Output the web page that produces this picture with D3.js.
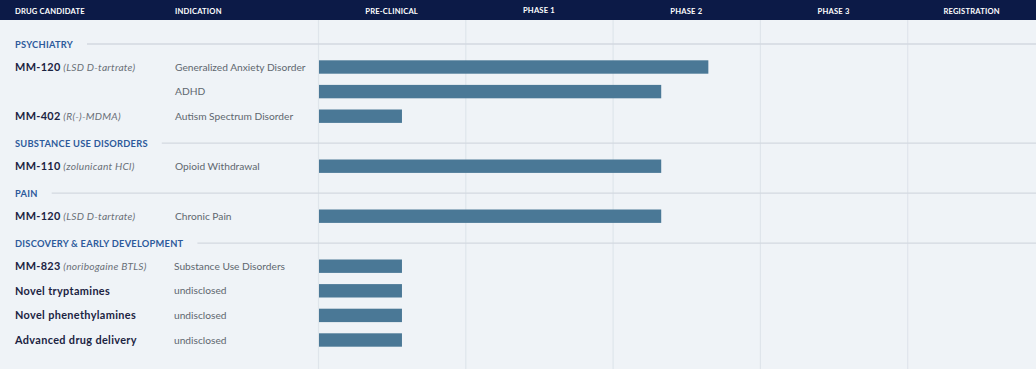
<!DOCTYPE html>
<html>
<head>
<meta charset="utf-8">
<script src="https://cdn.jsdelivr.net/npm/d3@7"></script>
<style>
  body { margin: 0; background: #eff3f7; }
  svg { display: block; font-family: Lato, "Open Sans", sans-serif; }
</style>
</head>
<body>
<div id="chart"></div>
<script>
// phases (column headers)
const phases = ["PRE-CLINICAL", "PHASE 1", "PHASE 2", "PHASE 3", "REGISTRATION"];

// sections and their rows
const sections = ["PSYCHIATRY", "SUBSTANCE USE DISORDERS", "PAIN", "DISCOVERY & EARLY DEVELOPMENT"];
const drugs = ["MM-120", "", "MM-402", "MM-110", "MM-120", "MM-823", "Novel tryptamines", "Novel phenethylamines", "Advanced drug delivery"];
const compounds = ["LSD D-tartrate", "", "R(-)-MDMA", "zolunicant HCl", "LSD D-tartrate", "noribogaine BTLS", "", "", ""];
const indications = ["Generalized Anxiety Disorder", "ADHD", "Autism Spectrum Disorder", "Opioid Withdrawal", "Chronic Pain", "Substance Use Disorders", "undisclosed", "undisclosed", "undisclosed"];
const rowSection = [0, 0, 0, 1, 2, 3, 3, 3, 3];
// progress measured in phase columns (0 = start of pre-clinical)
const progress = [2.65, 2.33, 0.57, 2.33, 2.33, 0.57, 0.57, 0.57, 0.57];

const W = 1036, H = 369, headH = 20;

const svg = d3.select("#chart").append("svg")
    .attr("width", W).attr("height", H);

svg.append("rect").attr("width", W).attr("height", H).attr("fill", "#eff3f7");

// scale for the phase columns
const x = d3.scaleLinear().domain([0, phases.length]).range([318, 318 + 147.3 * phases.length]);

// vertical layout: walk through sections and rows
let items = [];
let cy = 44.5;
sections.forEach((s, si) => {
    if (si > 0) cy += 27.5;
    items.push({type: "section", i: si, y: cy});
    let first = true;
    rowSection.forEach((rs, ri) => {
        if (rs !== si) return;
        cy += first ? 22.5 : 24.6;
        first = false;
        items.push({type: "row", i: ri, y: cy});
    });
});

// column grid lines
svg.append("g").selectAll("line")
    .data(d3.range(phases.length))
    .join("line")
    .attr("x1", d => x(d) + 0.5).attr("x2", d => x(d) + 0.5)
    .attr("y1", headH).attr("y2", H)
    .attr("stroke", "#dfe5eb").attr("stroke-width", 1.2);

// header band
svg.append("rect").attr("width", W).attr("height", headH).attr("fill", "#0c1a47");

const head = svg.append("g")
    .attr("fill", "#ffffff")
    .attr("font-size", 7.6)
    .attr("font-weight", 700)
    .attr("letter-spacing", 0.2);

head.append("text").attr("x", 15).attr("y", 13.5).text("DRUG CANDIDATE");
head.append("text").attr("x", 175).attr("y", 13.5).text("INDICATION");
head.selectAll(".ph")
    .data(phases)
    .join("text")
    .attr("class", "ph")
    .attr("x", (d, i) => (x(i) + Math.min(x(i + 1), W)) / 2)
    .attr("y", (d, i) => i === 1 ? 12.5 : 13.5)
    .attr("text-anchor", "middle")
    .text(d => d);

// section headers with rule lines
const secG = svg.append("g").selectAll("g")
    .data(items.filter(d => d.type === "section"))
    .join("g");

secG.append("text")
    .attr("x", 15).attr("y", d => d.y + 3.2)
    .attr("fill", "#2d5a9b")
    .attr("font-size", 9.3)
    .attr("font-weight", 700)
    .attr("letter-spacing", 0.25)
    .text(d => sections[d.i]);

secG.append("line")
    .attr("x1", function () {
        const t = this.parentNode.querySelector("text");
        return 15 + t.getComputedTextLength() + 14;
    })
    .attr("x2", W)
    .attr("y1", d => d.y - 0.5).attr("y2", d => d.y - 0.5)
    .attr("stroke", "#d3d9e0").attr("stroke-width", 1.3);

// rows
const rowG = svg.append("g").selectAll("g")
    .data(items.filter(d => d.type === "row"))
    .join("g");

const name = rowG.append("text")
    .attr("x", 15).attr("y", d => d.y + 4)
    .attr("font-size", 10.9)
    .attr("letter-spacing", 0.35);

name.append("tspan")
    .attr("font-weight", 700)
    .attr("fill", "#1b2342")
    .text(d => drugs[d.i]);

name.filter(d => compounds[d.i] !== "")
    .append("tspan")
    .attr("font-style", "italic")
    .attr("fill", "#6a7078")
    .attr("font-size", 10.2)
    .attr("letter-spacing", 0.25)
    .text(d => " (" + compounds[d.i] + ")");

rowG.append("text")
    .attr("x", d => rowSection[d.i] === 3 ? 174 : 175)
    .attr("y", d => d.y + 3.6)
    .attr("font-size", 10.2)
    .attr("fill", "#60676f")
    .text(d => indications[d.i]);

// progress bars
rowG.append("rect")
    .attr("x", x(0) + 1)
    .attr("y", d => d.y - 6.7)
    .attr("height", 13.4)
    .attr("width", d => x(progress[d.i]) - x(0) - 1)
    .attr("fill", "#4a7896");
</script>
</body>
</html>
